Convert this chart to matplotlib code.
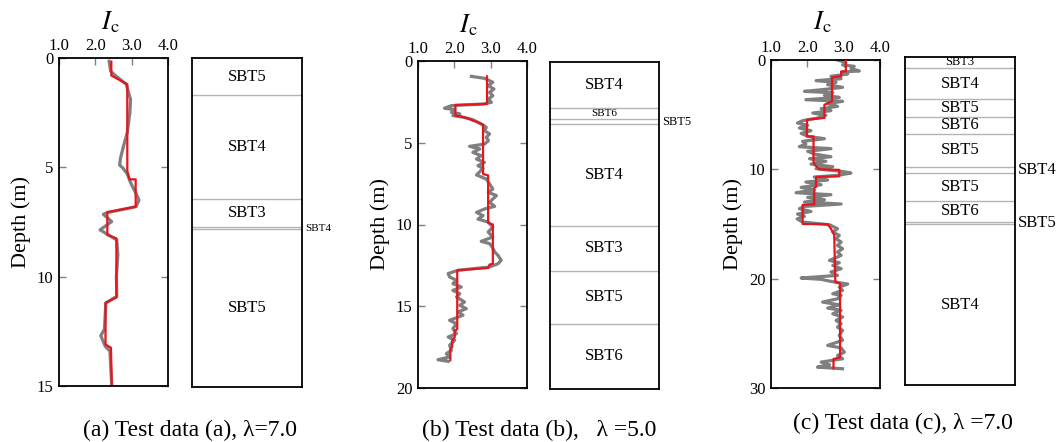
import matplotlib
matplotlib.use("Agg")
import matplotlib.pyplot as plt
import matplotlib.transforms as mtransforms

plt.rcParams['font.family'] = ['Liberation Serif', 'DejaVu Serif']
plt.rcParams['mathtext.fontset'] = 'stix'

# ---------------- data ----------------
# Panel (a)
a_gray_depth = [0.15, 0.6, 0.8, 1.0, 1.2, 1.9, 2.5, 3.4, 4.0, 4.6, 4.9, 5.0, 5.3, 5.7, 6.0,
                6.3, 6.5, 6.8, 7.07, 7.15, 7.48, 7.86, 8.09, 8.32, 9.0, 10.0, 10.9, 11.2,
                11.8, 12.4, 12.7, 12.9, 13.2, 13.4, 14.9]
a_gray_ic = [2.38, 2.42, 2.55, 2.70, 2.85, 2.97, 2.95, 2.88, 2.78, 2.69, 2.67, 2.74, 2.88, 2.97,
             3.06, 3.15, 3.20, 3.12, 2.33, 2.22, 2.45, 2.13, 2.36, 2.59, 2.62, 2.58, 2.59, 2.29,
             2.27, 2.25, 2.15, 2.20, 2.28, 2.40, 2.45]
a_red_depth = [0.17, 0.8, 1.2, 5.17, 5.55, 5.55, 6.8, 7.05, 8.09, 8.25, 10.95, 11.2, 13.1, 13.25, 14.9]
a_red_ic = [2.44, 2.44, 2.88, 2.88, 2.94, 3.11, 3.11, 2.33, 2.33, 2.58, 2.58, 2.28, 2.28, 2.43, 2.45]
a_bounds = [0, 1.7, 6.45, 7.72, 7.80, 15]
a_labels = ['SBT5', 'SBT4', 'SBT3', 'SBT4', 'SBT5']

# Panel (b)
b_gray_depth = [0.94, 1.06, 1.30, 1.51, 1.71, 1.92, 2.12, 2.32, 2.53, 2.63, 2.73, 2.89, 2.97,
                3.14, 3.24, 3.34, 3.45, 3.59, 3.75, 3.91, 4.06, 4.26, 4.46, 4.67, 4.87, 5.08,
                5.22, 5.38, 5.59, 5.79, 6.0, 6.2, 6.4, 6.57, 6.97, 7.22, 7.52, 7.83, 8.03, 8.23,
                8.44, 8.64, 8.89, 9.05, 9.26, 9.46, 9.67, 9.85, 10.15, 10.46, 10.76, 11.03,
                11.17, 11.44, 11.68, 11.88, 12.19, 12.40, 12.60, 12.80, 13.00, 13.21, 13.41,
                13.62, 13.82, 14.03, 14.23, 14.43, 14.74, 14.94, 15.15, 15.35, 15.55, 15.86,
                16.07, 16.37, 16.68, 16.88, 17.08, 17.39, 17.70, 17.90, 18.10, 18.27, 18.37]
b_gray_ic = [2.47, 2.83, 3.06, 2.93, 3.09, 2.97, 3.06, 2.94, 3.02, 2.79, 1.92, 1.73, 2.01,
             1.92, 2.15, 1.96, 2.28, 2.51, 2.65, 2.79, 2.88, 2.83, 2.97, 2.88, 2.94, 2.83,
             2.42, 2.70, 2.51, 2.74, 2.61, 2.83, 2.65, 2.79, 2.61, 2.88, 2.97, 3.06, 2.93,
             3.16, 3.06, 2.97, 3.11, 2.83, 2.61, 2.79, 2.65, 2.93, 3.06, 2.93, 3.06, 2.74,
             2.97, 3.06, 3.11, 3.20, 3.29, 3.20, 2.97, 2.10, 1.83, 1.87, 2.06, 1.96, 2.19,
             1.96, 2.15, 2.06, 2.28, 2.15, 2.33, 2.10, 2.24, 1.87, 2.06, 1.96, 2.06, 1.83,
             2.01, 1.87, 1.92, 1.78, 1.87, 1.55, 1.83]
b_red_depth = [0.94, 2.63, 2.69, 3.34, 3.40, 3.55, 3.65, 3.71, 3.90, 6.91, 7.0, 9.9, 10.0,
               12.4, 12.45, 12.66, 12.8, 16.4, 16.5, 16.9, 17.1, 17.5, 17.6, 18.3]
b_red_ic = [2.90, 2.90, 2.03, 2.03, 2.19, 2.42, 2.51, 2.61, 2.79, 2.79, 2.93, 2.93, 3.06,
            3.06, 2.97, 2.93, 2.08, 2.08, 2.01, 2.01, 1.94, 1.94, 1.89, 1.89]
b_bounds = [0, 2.8, 3.5, 3.8, 10.0, 12.8, 16.0, 20]
b_labels = ['SBT4', 'SBT6', 'SBT5', 'SBT4', 'SBT3', 'SBT5', 'SBT6']

# Panel (c)
c_gray_depth = [0.0, 0.24, 0.45, 0.58, 0.79, 1.0, 1.1, 1.28, 1.49, 1.71, 1.89, 2.04, 2.26,
                2.50, 2.71, 2.87, 2.99, 3.23, 3.42, 3.63, 3.78, 3.99, 4.24, 4.45, 4.63, 4.85,
                5.06, 5.31, 5.55, 5.76, 5.98, 6.22, 6.47, 6.71, 6.98, 7.2, 7.44, 7.68, 7.93,
                8.11, 8.35, 8.60, 8.85, 9.03, 9.27, 9.52, 9.76, 9.94, 10.2, 10.34, 10.55, 10.70,
                10.98, 11.16, 11.41, 11.65, 11.89, 12.14, 12.32, 12.57, 12.78, 12.99, 13.17,
                13.39, 13.60, 13.85, 14.09, 14.30, 14.54, 14.82, 15.07, 15.13, 15.43, 15.74,
                16.04, 16.35, 16.65, 16.96, 17.26, 17.57, 17.87, 18.33, 18.54, 18.79, 19.09,
                19.39, 19.70, 19.94, 20.06, 20.25, 20.49, 20.77, 21.07, 21.38, 21.53, 21.84,
                22.14, 22.39, 22.69, 22.90, 23.21, 23.51, 23.82, 24.12, 24.43, 24.73, 25.19,
                25.64, 26.10, 26.34, 26.72, 27.03, 27.33, 27.63, 27.88, 28.09, 28.24]
c_gray_ic = [2.83, 3.06, 2.97, 3.29, 3.20, 3.43, 2.97, 3.11, 2.65, 2.93, 2.24, 2.79, 2.56,
             2.97, 2.42, 1.92, 2.70, 2.47, 2.88, 1.96, 2.97, 2.56, 2.83, 2.38, 2.65, 2.15,
             2.51, 2.28, 1.87, 1.73, 2.01, 1.78, 2.10, 1.83, 2.01, 2.47, 1.87, 1.96, 1.78,
             2.65, 2.01, 2.19, 2.65, 2.06, 2.51, 2.10, 2.70, 2.24, 2.97, 3.20, 2.83, 2.19,
             2.56, 1.96, 2.38, 1.83, 2.19, 1.69, 2.65, 2.01, 2.47, 1.92, 2.93, 1.92, 1.78,
             2.10, 1.73, 1.92, 1.72, 1.87, 2.61, 2.65, 2.83, 2.70, 2.88, 2.79, 2.93, 2.83,
             2.97, 2.83, 2.93, 2.61, 2.88, 2.70, 2.93, 2.65, 2.83, 1.83, 2.38, 2.65, 3.11,
             2.88, 2.97, 2.70, 2.93, 2.83, 2.42, 2.88, 2.56, 2.93, 2.70, 2.97, 2.79, 2.93,
             2.83, 2.97, 2.88, 2.97, 2.56, 2.93, 3.02, 2.83, 2.97, 2.38, 2.61, 2.28, 2.97]
c_red_depth = [0.06, 1.04, 1.05, 1.49, 1.59, 3.78, 4.09, 5.30, 5.46, 6.98, 7.00, 9.27, 9.60,
               10.00, 10.05, 10.64, 10.70, 11.60, 11.70, 13.20, 13.25, 15.00, 15.02, 15.43,
               16.00, 20.30, 20.45, 27.20, 27.35, 28.20]
c_red_ic = [3.06, 3.06, 2.93, 2.93, 2.68, 2.68, 2.47, 2.47, 1.99, 1.99, 2.17, 2.17, 2.21,
            2.33, 2.88, 2.88, 2.24, 2.24, 2.19, 2.19, 1.87, 1.87, 2.56, 2.65, 2.74, 2.77,
            2.90, 2.90, 2.72, 2.72]
c_bounds = [0, 1.0, 3.85, 5.5, 7.0, 10.1, 10.6, 13.2, 15.05, 15.3, 30]
c_labels = ['SBT3', 'SBT4', 'SBT5', 'SBT6', 'SBT5', 'SBT4', 'SBT5', 'SBT6', 'SBT5', 'SBT4']

x_ticks = [1.0, 2.0, 3.0, 4.0]
x_ticklabels = ['1.0', '2.0', '3.0', '4.0']
captions = ['(a) Test data (a), λ=7.0', '(b) Test data (b),   λ =5.0', '(c) Test data (c), λ =7.0']

# ---------------- figure ----------------
W, H = 1058, 442
fig = plt.figure(figsize=(W / 100, H / 100), dpi=100)


def px_axes(l, t, r, b):
    return fig.add_axes([l / W, 1 - b / H, (r - l) / W, (b - t) / H])


def ic_panel(box, gd, gi, rd, ri, dmax, yticks, ic_pos):
    ax = px_axes(*box)
    ax.plot(gi, gd, color='#7f7f7f', lw=2.3, solid_joinstyle='round', zorder=2)
    ax.plot(ri, rd, color='#e8141c', lw=1.6, zorder=3)
    ax.set_xlim(1.0, 4.0)
    ax.set_ylim(dmax, 0)
    ax.set_xticks(x_ticks)
    ax.set_xticklabels(x_ticklabels)
    ax.set_yticks(yticks)
    ax.tick_params(axis='x', direction='in', top=True, bottom=False, labeltop=True,
                   labelbottom=False, length=5, width=1.0, color='#808080', labelsize=12, pad=3)
    ax.tick_params(axis='y', direction='in', left=True, right=True, length=5, width=1.0,
                   color='#808080', labelsize=12, pad=4)
    for s in ax.spines.values():
        s.set_linewidth(1.3)
    ax.set_ylabel('Depth (m)', fontsize=16, labelpad=4)
    fig.text(ic_pos[0] / W, 1 - ic_pos[1] / H, r'$I_{\mathrm{c}}$', ha='center', va='center',
             fontsize=19)
    return ax


def sbt_panel(box, bounds, labels, dmax, small, outside, out_size):
    ax = px_axes(*box)
    ax.set_xlim(0, 1)
    ax.set_ylim(dmax, 0)
    ax.set_xticks([])
    ax.set_yticks([])
    for s in ax.spines.values():
        s.set_linewidth(1.3)
    for y in bounds[1:-1]:
        ax.axhline(y, color='#b4b4b4', lw=1.0)
    trans = mtransforms.blended_transform_factory(ax.transAxes, ax.transData)
    for i, lab in enumerate(labels):
        mid = 0.5 * (bounds[i] + bounds[i + 1])
        if i in outside:
            ax.text(1.03, mid, lab, transform=trans, ha='left', va='center',
                    fontsize=out_size, clip_on=False)
        elif i in small:
            ax.text(0.5, mid, lab, transform=trans, ha='center', va='center', fontsize=small[i])
        else:
            ax.text(0.5, mid, lab, transform=trans, ha='center', va='center', fontsize=12)
    return ax


ic_panel((59, 58, 168, 386), a_gray_depth, a_gray_ic, a_red_depth, a_red_ic, 15,
         [0, 5, 10, 15], (110, 22))
sbt_panel((192, 58, 302, 387), a_bounds, a_labels, 15, {}, [3], 8)

ic_panel((418, 61, 527, 388), b_gray_depth, b_gray_ic, b_red_depth, b_red_ic, 20,
         [0, 5, 10, 15, 20], (468, 25))
sbt_panel((550, 62, 659, 389), b_bounds, b_labels, 20, {1: 8}, [2], 9)

ic_panel((771, 60, 880, 388), c_gray_depth, c_gray_ic, c_red_depth, c_red_ic, 30,
         [0, 10, 20, 30], (822, 22))
sbt_panel((905, 57, 1015, 385), c_bounds, c_labels, 30, {0: 9}, [5, 8], 12)

# captions
fig.text(190 / W, 1 - 430 / H, captions[0], ha='center', va='center', fontsize=17)
fig.text(539 / W, 1 - 430 / H, captions[1], ha='center', va='center', fontsize=17)
fig.text(903 / W, 1 - 423 / H, captions[2], ha='center', va='center', fontsize=17)

fig.savefig('out.png', dpi=100)
